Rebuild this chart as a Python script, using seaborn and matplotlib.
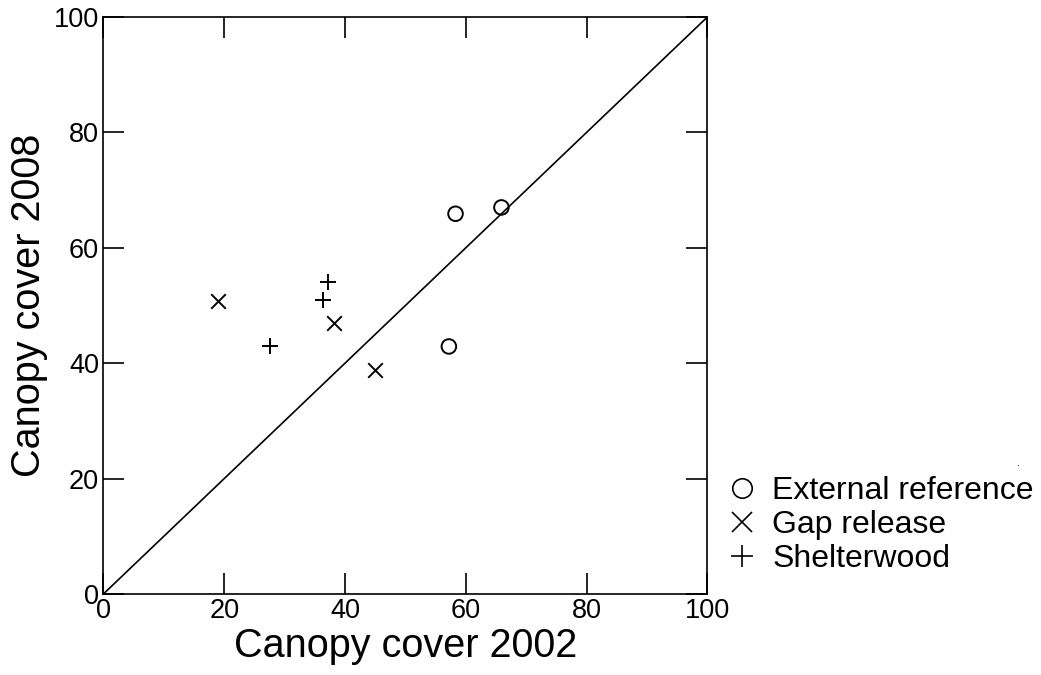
import matplotlib
matplotlib.use("Agg")
import matplotlib.pyplot as plt
import seaborn as sns
import pandas as pd
from matplotlib.lines import Line2D

# Data
groups = ["External reference", "Gap release", "Shelterwood"]
ext_x = [58.3, 65.9, 57.2]
ext_y = [65.9, 67.0, 42.9]
gap_x = [19.0, 38.2, 44.9]
gap_y = [50.8, 46.9, 38.8]
shel_x = [37.2, 36.3, 27.6]
shel_y = [54.0, 51.0, 43.0]
ticks = [0, 20, 40, 60, 80, 100]

df = pd.concat([
    pd.DataFrame({"x": ext_x, "y": ext_y, "group": groups[0]}),
    pd.DataFrame({"x": gap_x, "y": gap_y, "group": groups[1]}),
    pd.DataFrame({"x": shel_x, "y": shel_y, "group": groups[2]}),
])

sns.set_style("ticks")
plt.rcParams["font.family"] = ["Liberation Sans", "DejaVu Sans"]
plt.rcParams["text.color"] = "black"
plt.rcParams["axes.labelcolor"] = "black"
plt.rcParams["xtick.color"] = "black"
plt.rcParams["ytick.color"] = "black"

fig = plt.figure(figsize=(10.41, 6.75), dpi=100)
ax = fig.add_axes([103.4 / 1041, (675 - 594) / 675, 604 / 1041, 577 / 675])

ax.axline((0, 0), (100, 100), color="black", lw=1.2, zorder=1)

sns.scatterplot(data=df[df.group == groups[0]], x="x", y="y", marker="o",
                s=110, facecolors="none", edgecolor="black", linewidth=1.4,
                ax=ax, legend=False, zorder=3)
sns.scatterplot(data=df[df.group == groups[1]], x="x", y="y", marker="x",
                s=110, color="black", linewidth=1.4, ax=ax, legend=False, zorder=3)
sns.scatterplot(data=df[df.group == groups[2]], x="x", y="y", marker="+",
                s=140, color="black", linewidth=1.4, ax=ax, legend=False, zorder=3)

ax.set_xlim(0, 100)
ax.set_ylim(0, 100)
ax.set_xticks(ticks)
ax.set_yticks(ticks)
ax.set_xticklabels([str(t) for t in ticks])
ax.set_yticklabels([str(t) for t in ticks])
ax.tick_params(direction="in", length=15, width=1.2, labelsize=19.5,
               top=True, right=True, pad=3, colors="black")
for sp in ax.spines.values():
    sp.set_linewidth(1.2)
    sp.set_color("black")

ax.set_xlabel("Canopy cover 2002", fontsize=28.5, labelpad=2)
ax.set_ylabel("Canopy cover 2008", fontsize=28.5, labelpad=4)

handles = [
    Line2D([], [], ls="none", marker="o", mfc="none", mec="black", ms=14, mew=1.2),
    Line2D([], [], ls="none", marker="x", color="black", ms=14, mew=1.2),
    Line2D([], [], ls="none", marker="+", color="black", ms=16, mew=1.2),
]
fig.legend(handles, groups, loc="center left", bbox_to_anchor=(726 / 1041, 1 - 525 / 675),
           frameon=False, fontsize=23, handlelength=1.0, handletextpad=0.45,
           labelspacing=0.12, borderpad=0, borderaxespad=0)

fig.text(1018 / 1041, 1 - 463 / 675, ".", fontsize=8, ha="center", va="center")

fig.savefig("out.png", dpi=100)
